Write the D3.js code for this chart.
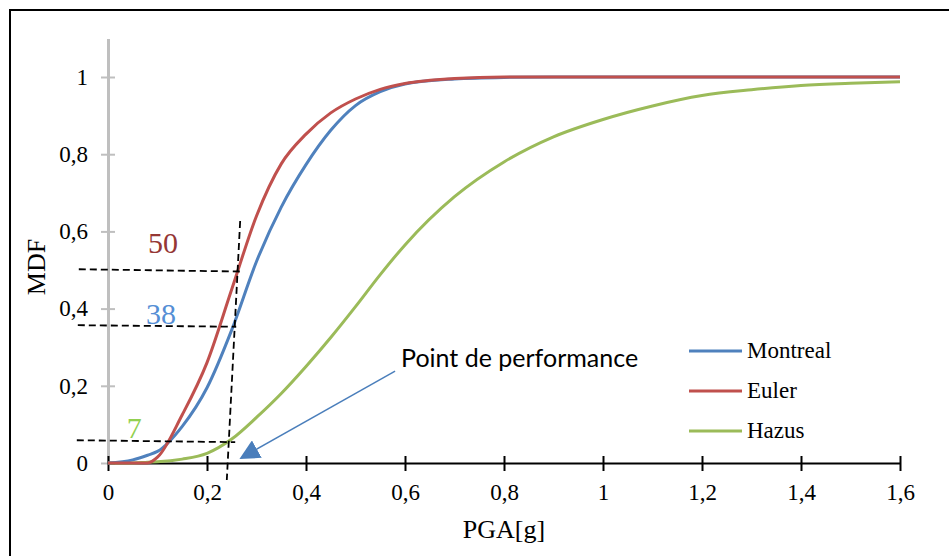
<!DOCTYPE html>
<html lang="fr">
<head>
    <meta charset="utf-8">
    <script src="https://d3js.org/d3.v7.min.js"></script>
    <title>MDF - PGA</title>
    <style>
        body { margin: 0; background: #fff; }
        svg { display: block; }
    </style>
</head>
<body>

<svg id="vis_1" width="949" height="556"></svg>

<script>

    // PGA values (g) where the curves were read
    var pga = [0, 0.05, 0.08, 0.1, 0.15, 0.2, 0.25, 0.3, 0.35, 0.4, 0.45, 0.5, 0.55, 0.6, 0.7, 0.8, 0.9, 1.0, 1.1, 1.2, 1.3, 1.4, 1.5, 1.6];

    var montreal = [0, 0.008, 0.02, 0.03, 0.095, 0.195, 0.345, 0.522, 0.663, 0.773, 0.862, 0.926, 0.962, 0.982, 0.995, 0.999, 1, 1, 1, 1, 1, 1, 1, 1];
    var euler    = [0, 0, 0, 0.015, 0.125, 0.26, 0.45, 0.64, 0.775, 0.852, 0.907, 0.943, 0.968, 0.983, 0.996, 1, 1, 1, 1, 1, 1, 1, 1, 1];
    var hazus    = [0, 0, 0.002, 0.003, 0.01, 0.025, 0.062, 0.118, 0.18, 0.25, 0.325, 0.405, 0.488, 0.565, 0.69, 0.78, 0.845, 0.89, 0.925, 0.952, 0.967, 0.978, 0.984, 0.988];

    var seriesNames = ["Montreal", "Euler", "Hazus"];
    var seriesColors = ["#4F81BD", "#C0504D", "#9BBB59"];

    var xTicks = [0, 0.2, 0.4, 0.6, 0.8, 1, 1.2, 1.4, 1.6];
    var yTicks = [0, 0.2, 0.4, 0.6, 0.8, 1];

    // performance point guides (data units)
    var guidesH = [
        [[-0.059, 0.502], [0.269, 0.496]],
        [[-0.061, 0.357], [0.259, 0.353]],
        [[-0.063, 0.059], [0.257, 0.054]]
    ];
    var guideV = [[0.267, 0.627], [0.240, -0.044]];

    var labels = [
        {text: "50", x: 0.081, y: 0.544, color: "#953735"},
        {text: "38", x: 0.077, y: 0.360, color: "#558ED5"},
        {text: "7",  x: 0.038, y: 0.065, color: "#92D050"}
    ];

    var arrowFrom = [0.580, 0.238];
    var arrowTo = [0.269, 0.013];
    var arrowText = "Point de performance";

    var SERIF = "'Liberation Serif', 'Times New Roman', serif";

    var svg = d3.select("#vis_1");

    var x = d3.scaleLinear().domain([0, 1.6]).range([108, 900]);
    var y = d3.scaleLinear().domain([0, 1.1]).range([463, 38.4]);

    // outer frame
    svg.append("rect")
        .attr("x", 10).attr("y", 10)
        .attr("width", 960).attr("height", 570)
        .attr("fill", "none")
        .attr("stroke", "#000")
        .attr("stroke-width", 2);

    var fmt = function(d) { return String(d).replace(".", ","); };

    // y axis (grey)
    var yAxis = svg.append("g")
        .attr("transform", "translate(" + x(0) + ",0)")
        .call(d3.axisLeft(y).tickValues(yTicks).tickSize(0).tickPadding(20).tickFormat(fmt));
    yAxis.select(".domain").attr("stroke", "#BFBFBF").attr("stroke-width", 3);
    yAxis.selectAll(".tick line").attr("x1", -7).attr("x2", 7)
        .attr("stroke", "#BFBFBF").attr("stroke-width", 2);
    yAxis.selectAll(".tick text")
        .style("font-family", SERIF)
        .style("font-size", "23px")
        .attr("fill", "#000");

    // x axis (black)
    var xAxis = svg.append("g")
        .attr("transform", "translate(0," + y(0) + ")")
        .call(d3.axisBottom(x).tickValues(xTicks).tickSize(0).tickPadding(21).tickFormat(fmt));
    xAxis.select(".domain").attr("stroke", "#000").attr("stroke-width", 2);
    xAxis.selectAll(".tick line").attr("y1", -7).attr("y2", 8)
        .attr("stroke", "#000").attr("stroke-width", 2);
    xAxis.selectAll(".tick text")
        .style("font-family", SERIF)
        .style("font-size", "23px")
        .attr("fill", "#000");

    // axis titles
    svg.append("text")
        .attr("x", (x(0) + x(1.6)) / 2)
        .attr("y", 538)
        .attr("text-anchor", "middle")
        .style("font-family", SERIF)
        .style("font-size", "26px")
        .text("PGA[g]");

    svg.append("text")
        .attr("transform", "translate(45,267) rotate(-90)")
        .attr("text-anchor", "middle")
        .style("font-family", SERIF)
        .style("font-size", "26px")
        .text("MDF");

    // curves
    var line = d3.line()
        .x(function(d) { return x(d[0]); })
        .y(function(d) { return y(d[1]); })
        .curve(d3.curveMonotoneX);

    var allSeries = [montreal, euler, hazus];
    var drawOrder = [2, 0, 1];
    drawOrder.forEach(function(i) {
        svg.append("path")
            .datum(pga.map(function(p, k) { return [p, allSeries[i][k]]; }))
            .attr("d", line)
            .attr("fill", "none")
            .attr("stroke", seriesColors[i])
            .attr("stroke-width", 3);
    });

    // dashed guides
    var guide = d3.line()
        .x(function(d) { return x(d[0]); })
        .y(function(d) { return y(d[1]); });

    guidesH.concat([guideV]).forEach(function(g) {
        svg.append("path")
            .attr("d", guide(g))
            .attr("fill", "none")
            .attr("stroke", "#000")
            .attr("stroke-width", 1.8)
            .attr("stroke-dasharray", "7,4");
    });

    // coloured value labels
    svg.selectAll(".val")
        .data(labels)
        .enter()
        .append("text")
        .attr("x", function(d) { return x(d.x); })
        .attr("y", function(d) { return y(d.y); })
        .style("font-family", SERIF)
        .style("font-size", "30px")
        .attr("fill", function(d) { return d.color; })
        .text(function(d) { return d.text; });

    // arrow
    svg.append("defs").append("marker")
        .attr("id", "head")
        .attr("viewBox", "0 0 10 10")
        .attr("refX", 9).attr("refY", 5)
        .attr("markerWidth", 20).attr("markerHeight", 20)
        .attr("markerUnits", "userSpaceOnUse")
        .attr("orient", "auto")
        .append("path")
        .attr("d", "M0,0 L10,5 L0,10 z")
        .attr("fill", "#4A7EBB");

    svg.append("line")
        .attr("x1", x(arrowFrom[0])).attr("y1", y(arrowFrom[1]))
        .attr("x2", x(arrowTo[0])).attr("y2", y(arrowTo[1]))
        .attr("stroke", "#4A7EBB")
        .attr("stroke-width", 1.5)
        .attr("marker-end", "url(#head)");

    svg.append("text")
        .attr("x", x(0.592))
        .attr("y", y(0.249))
        .style("font-family", "Lato, 'Liberation Sans', sans-serif")
        .style("font-size", "25px")
        .attr("fill", "#000")
        .text(arrowText);

    // legend
    var legend = svg.append("g");
    seriesNames.forEach(function(name, i) {
        var ly = 351 + i * 40;
        legend.append("line")
            .attr("x1", 689).attr("x2", 742)
            .attr("y1", ly).attr("y2", ly)
            .attr("stroke", seriesColors[i])
            .attr("stroke-width", 3);
        legend.append("text")
            .attr("x", 747).attr("y", ly + 7)
            .style("font-family", SERIF)
            .style("font-size", "23px")
            .text(name);
    });

</script>

</body>
</html>
